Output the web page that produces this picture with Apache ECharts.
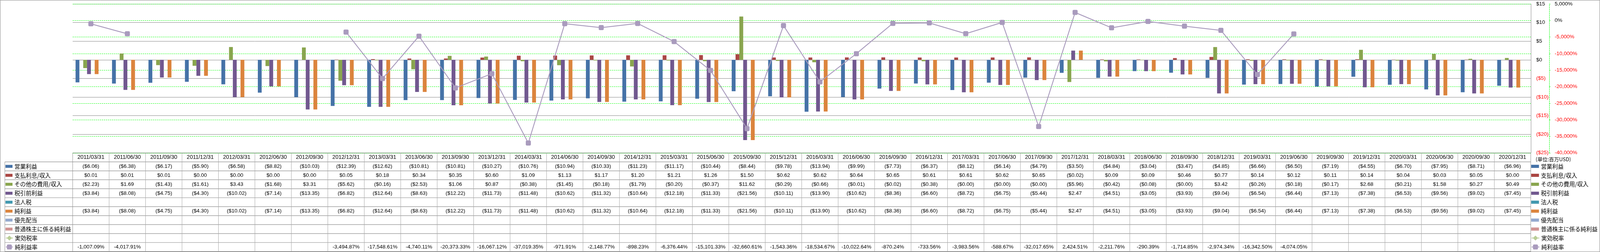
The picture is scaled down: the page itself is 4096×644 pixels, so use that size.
<!DOCTYPE html>
<html><head><meta charset="utf-8">
<script src="https://cdn.jsdelivr.net/npm/echarts/dist/echarts.min.js"></script>
<style>html,body{margin:0;padding:0;background:#fff;}#c{width:4096px;height:644px;}</style>
</head><body><div id="c"></div>
<script>
const categories = ['2011/03/31','2011/06/30','2011/09/30','2011/12/31','2012/03/31','2012/06/30','2012/09/30','2012/12/31','2013/03/31','2013/06/30','2013/09/30','2013/12/31','2014/03/31','2014/06/30','2014/09/30','2014/12/31','2015/03/31','2015/06/30','2015/09/30','2015/12/31','2016/03/31','2016/06/30','2016/09/30','2016/12/31','2017/03/31','2017/06/30','2017/09/30','2017/12/31','2018/03/31','2018/06/30','2018/09/30','2018/12/31','2019/03/31','2019/06/30','2019/09/30','2019/12/31','2020/03/31','2020/06/30','2020/09/30','2020/12/31'];
const operatingIncome = [-6.06,-6.38,-6.17,-5.90,-6.58,-8.82,-10.03,-12.39,-12.62,-10.81,-10.81,-10.27,-10.76,-10.94,-10.33,-11.23,-11.17,-10.44,-8.44,-9.78,-13.94,-9.99,-7.73,-6.37,-8.12,-6.14,-4.79,-3.50,-4.84,-3.04,-3.47,-4.85,-6.66,-6.50,-7.19,-4.55,-6.70,-7.95,-8.71,-6.96];
const interestIncome = [0.01,0.01,0.01,0.00,0.00,0.00,0.00,0.05,0.18,0.34,0.35,0.60,1.09,1.13,1.17,1.20,1.21,1.26,1.50,0.62,0.62,0.64,0.65,0.61,0.61,0.62,0.65,-0.02,0.09,0.09,0.46,0.77,0.14,0.12,0.11,0.14,0.04,0.03,0.05,0.00];
const otherIncome = [-2.23,1.69,-1.43,-1.61,3.43,-1.68,3.31,-5.62,-0.16,-2.53,1.06,0.87,-0.38,-1.45,-0.18,-1.79,-0.20,-0.37,11.62,-0.29,-0.66,-0.01,-0.02,-0.38,-0,-0,-0,-5.96,-0.42,-0.08,-0,3.42,-0.26,-0.18,-0.17,2.68,-0.21,1.58,0.27,0.49];
const pretaxIncome = [-3.84,-8.08,-4.75,-4.30,-10.02,-7.14,-13.35,-6.82,-12.64,-8.63,-12.22,-11.73,-11.48,-10.62,-11.32,-10.64,-12.18,-11.33,-21.56,-10.11,-13.90,-10.62,-8.36,-6.60,-8.72,-6.75,-5.44,2.47,-4.51,-3.05,-3.93,-9.04,-6.54,-6.44,-7.13,-7.38,-6.53,-9.56,-9.02,-7.45];
const corporateTax = [];
const netIncome = [-3.84,-8.08,-4.75,-4.30,-10.02,-7.14,-13.35,-6.82,-12.64,-8.63,-12.22,-11.73,-11.48,-10.62,-11.32,-10.64,-12.18,-11.33,-21.56,-10.11,-13.90,-10.62,-8.36,-6.60,-8.72,-6.75,-5.44,2.47,-4.51,-3.05,-3.93,-9.04,-6.54,-6.44,-7.13,-7.38,-6.53,-9.56,-9.02,-7.45];
const preferredDividends = [];
const netIncomeCommon = [];
const effectiveTaxRate = [];
const netMargin = [-1007.09,-4017.91,null,null,null,null,null,-3494.87,-17548.61,-4740.11,-20373.33,-16067.12,-37019.35,-971.91,-2148.77,-898.23,-6376.44,-15101.33,-32660.61,-1543.36,-18534.67,-10022.64,-870.24,-733.56,-3983.56,-588.67,-32017.65,2424.51,-2211.76,-290.39,-1714.85,-2974.34,-16342.50,-4074.05,null,null,null,null,null,null];
const barNames = ['営業利益','支払利息/収入','その他の費用/収入','税引前利益','法人税','純利益','優先配当','普通株主に係る純利益'];
const lineNames = ['実効税率','純利益率'];
const dollarMin = -25, dollarMax = 15, dollarStep = 5;
const pctMin = -40000, pctMax = 5000, pctStep = 5000;
const unitLabel = '(単位:百万USD)';

const barData = [operatingIncome, interestIncome, otherIncome, pretaxIncome, corporateTax, netIncome, preferredDividends, netIncomeCommon];
const lineData = [effectiveTaxRate, netMargin];
const barColors = ['#4572A7','#AA4643','#89A54E','#71588F','#4198AF','#DB843D','#93A9CF','#D19392'];
const lineColors = ['#B9CD96','#A99BBD'];
const lineSymbols = ['diamond','roundRect'];

const W = 4096, H = 644;
const rowH = 22.9;
const labelLeft = 12.4;
const numFont = '"Liberation Sans", Arial, sans-serif';
const jpFont = '"Noto Sans CJK JP", sans-serif';

function thousands(n) {
  const s = String(Math.abs(Math.round(n)));
  return (n < 0 ? '-' : '') + s.replace(/\B(?=(\d{3})+(?!\d))/g, ',');
}
function fmtMoney(v) {
  if (v === null || v === undefined) return '';
  const neg = v < 0 || Object.is(v, -0);
  const s = '$' + Math.abs(v).toFixed(2);
  return neg ? '(' + s + ')' : s;
}
function fmtPct(v) {
  if (v === null || v === undefined) return '';
  const p = Math.abs(v).toFixed(2).split('.');
  return (v < 0 ? '-' : '') + p[0].replace(/\B(?=(\d{3})+(?!\d))/g, ',') + '.' + p[1] + '%';
}

const chart = echarts.init(document.getElementById('c'), null, {renderer: 'canvas', width: W, height: H});

const series = [];
barNames.forEach((n, i) => series.push({
  name: n, type: 'bar', yAxisIndex: 0, data: barData[i],
  barGap: '0%', barCategoryGap: '16%',
  itemStyle: {color: barColors[i]}
}));
lineNames.forEach((n, i) => series.push({
  name: n, type: 'line', yAxisIndex: 1, data: lineData[i],
  symbol: lineSymbols[i], symbolSize: 13, showAllSymbol: true, connectNulls: false,
  lineStyle: {color: lineColors[i], width: 2.25},
  itemStyle: {color: lineColors[i]}, z: 5
}));

const option = {
  animation: false,
  backgroundColor: '#ffffff',
  textStyle: {fontFamily: numFont},
  grid: {left: 186, right: 177.25, top: 10.05, bottom: 253.25, containLabel: false, outerBoundsMode: 'none'},
  xAxis: {type: 'category', data: categories, boundaryGap: true,
    axisLine: {show: false}, axisTick: {show: false}, axisLabel: {show: false}, splitLine: {show: false}},
  yAxis: [
    {type: 'value', position: 'right', min: dollarMin, max: dollarMax, interval: dollarStep,
      axisLine: {show: true, onZero: false, lineStyle: {color: '#868686', width: 1}},
      axisTick: {show: false},
      axisLabel: {margin: 14, fontFamily: numFont, fontSize: 13.5,
        formatter: v => v < 0 ? '($' + (-v) + ')' : '$' + v,
        color: v => Number(v) < 0 ? '#FF0000' : '#000000'},
      splitLine: {show: true, lineStyle: {color: '#868686', width: 1}}},
    {type: 'value', position: 'right', offset: 47.25, min: pctMin, max: pctMax, interval: pctStep,
      axisLine: {show: true, onZero: false, lineStyle: {color: '#00FF00', width: 1, type: [3, 2]}},
      axisTick: {show: true, length: 3, lineStyle: {color: '#00FF00', width: 1}},
      axisLabel: {margin: 14, fontFamily: numFont, fontSize: 13.5,
        formatter: v => thousands(v) + '%',
        color: v => Number(v) < 0 ? '#FF0000' : '#000000'},
      splitLine: {show: true, lineStyle: {color: '#00FF00', width: 1, type: [3, 2]}}}
  ],
  series: series
};
chart.setOption(option);

// table + legends laid out from the axes
const c0 = chart.convertToPixel({xAxisIndex: 0}, categories[0]);
const c1 = chart.convertToPixel({xAxisIndex: 0}, categories[1]);
const colW = c1 - c0;
const tableLeft = c0 - colW / 2;
const tableRight = tableLeft + colW * categories.length;
const tableTop = chart.convertToPixel({yAxisIndex: 0}, dollarMin);
const rows = barData.map(d => ({data: d, fmt: fmtMoney})).concat(lineData.map(d => ({data: d, fmt: fmtPct})));
const tableBottom = tableTop + rowH * (rows.length + 1);

const els = [];
function line(x1, y1, x2, y2, color, w) {
  els.push({type: 'line', silent: true, shape: {x1, y1, x2, y2}, style: {stroke: color, lineWidth: w}});
}
function text(x, y, t, size, family, align) {
  els.push({type: 'text', silent: true, x: x, y: y,
    style: {text: t, fill: '#000', fontSize: size, fontFamily: family,
      align: align || 'center', verticalAlign: 'middle', textAlign: align || 'center', textVerticalAlign: 'middle'}});
}
els.push({type: 'rect', silent: true, shape: {x: 0.5, y: 0.5, width: W - 1, height: H - 1}, style: {fill: 'none', stroke: '#868686', lineWidth: 1}});
for (let k = 0; k <= rows.length + 1; k++) {
  const y = tableTop + k * rowH;
  line(k === 0 ? tableLeft : labelLeft, y, tableRight, y, '#8c8c8c', 1.2);
}
line(labelLeft, tableTop + rowH, labelLeft, tableBottom, '#8c8c8c', 1);
for (let j = 0; j <= categories.length; j++) {
  const x = tableLeft + j * colW;
  line(x, tableTop, x, tableBottom, j === 0 || j === categories.length ? '#8c8c8c' : '#a6a6a6', 1);
}
categories.forEach((d, i) => text(chart.convertToPixel({xAxisIndex: 0}, d), tableTop + rowH / 2, d, 14, numFont));
rows.forEach((r, ri) => {
  r.data.forEach((v, i) => {
    if (v === null || v === undefined) return;
    text(chart.convertToPixel({xAxisIndex: 0}, categories[i]), tableTop + rowH * (ri + 1.5), r.fmt(v), 13.5, numFont);
  });
});
text(tableRight + 12.5, tableTop + rowH * 0.7, unitLabel, 13, jpFont, 'left');

const legCommon = {orient: 'vertical', itemGap: 0, padding: 0,
  textStyle: {fontFamily: jpFont, fontSize: 14.5, color: '#000', lineHeight: rowH}};
chart.setOption({
  legend: [
    Object.assign({}, legCommon, {left: 14, top: tableTop + rowH, itemWidth: 18, itemHeight: 7.5, icon: 'rect', data: barNames}),
    Object.assign({}, legCommon, {left: 14, top: tableTop + rowH * 9, itemWidth: 18, itemHeight: 16, data: lineNames}),
    Object.assign({}, legCommon, {left: tableRight + 1, top: tableTop + rowH, itemWidth: 20, itemHeight: 8, icon: 'rect', data: barNames}),
    Object.assign({}, legCommon, {left: tableRight + 1, top: tableTop + rowH * 9, itemWidth: 20, itemHeight: 16, data: lineNames})
  ],
  graphic: {elements: els}
});
</script></body></html>
